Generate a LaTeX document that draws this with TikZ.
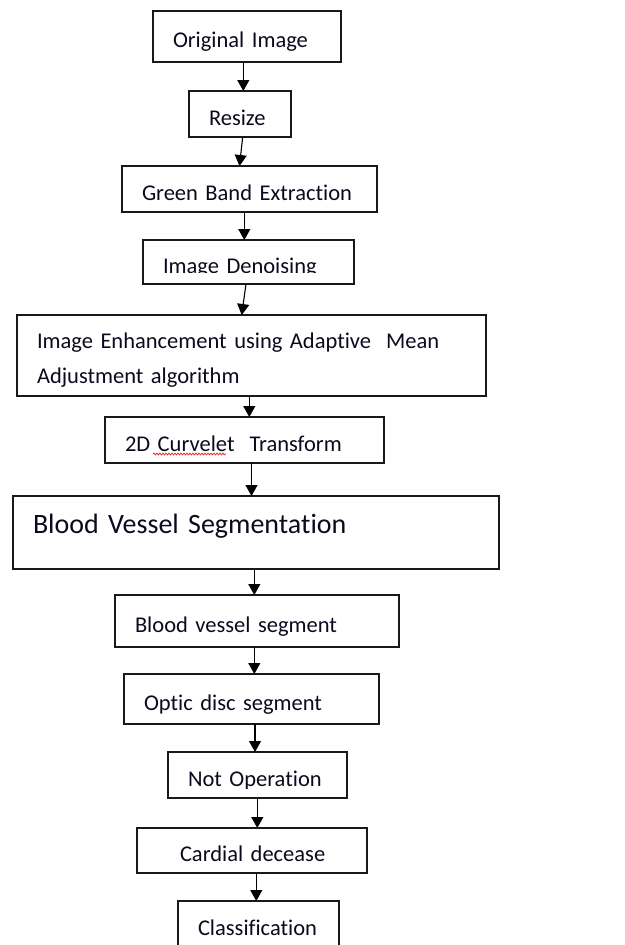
\documentclass[tikz,border=0pt]{standalone}
\usepackage{fontspec}
\setmainfont{Carlito}[Ligatures=NoCommon,WordSpace=0.65]
\usepackage{tikz}
\usetikzlibrary{arrows.meta,decorations.pathmorphing}

\begin{document}
\begin{tikzpicture}[x=1pt,y=-1pt]
    \definecolor{boxline}{RGB}{25,25,25}
    \definecolor{textcol}{RGB}{10,10,30}
    \definecolor{spellred}{RGB}{225,45,45}

    \tikzstyle{stage}=[rectangle,draw=boxline,line width=1.4pt,anchor=north west,outer sep=0pt,
        inner xsep=20pt,inner ysep=0pt,align=left,text=textcol,
        font=\fontsize{22.5}{35}\selectfont,text height=26pt,text depth=4pt]  % 方框,文字靠左
    \tikzstyle{flow}=[draw=black,line width=1.1pt,-{Triangle[length=11pt,width=12pt]}]  % 箭头

    \path[use as bounding box,clip] (0,0) rectangle (624,945);  % 画面大小

    % 各个步骤
    \node[stage,text width=148pt,minimum height=51pt](b1) at (153,11) {Original Image};
    \node[stage,text width=62pt,minimum height=46pt](b2) at (189,91) {Resize};
    \node[stage,text width=215pt,minimum height=46pt](b3) at (122,166) {Green Band Extraction};
    \begin{scope}  % 文字下半被截掉
        \clip (143,240) rectangle (354,272);
        \node[stage,draw=none,text width=171pt,minimum height=44pt](b4) at (143,240) {Image Denoising};
    \end{scope}
    \draw[draw=boxline,line width=1.4pt] (b4.north west) rectangle (b4.south east);
    \node[stage,text width=429pt,minimum height=81pt,text depth=40pt](b5) at (17,315)
        {Image Enhancement using Adaptive~~Mean\\Adjustment algorithm};
    \node[stage,text width=239pt,minimum height=46pt](b6) at (105,417) {2D Curvelet~~Transform};
    \draw[spellred,line width=0.8pt,decorate,decoration={snake,amplitude=0.9pt,segment length=3pt}]
        (153,454) -- (226,454);  % 拼写检查波浪线
    \node[stage,text width=446pt,minimum height=73pt,font=\fontsize{28}{34}\selectfont,
        text height=20pt,text depth=18pt](b7) at (13,496) {Blood Vessel Segmentation};
    \node[stage,text width=244pt,minimum height=52pt](b8) at (115,595) {Blood vessel segment};
    \node[stage,text width=215pt,minimum height=50pt](b9) at (124,674) {Optic disc segment};
    \begin{scope}
        \clip (168,752) rectangle (347,788);
        \node[stage,draw=none,text width=139pt,minimum height=46pt](b10) at (168,752) {Not Operation};
    \end{scope}
    \draw[draw=boxline,line width=1.4pt] (b10.north west) rectangle (b10.south east);
    \node[stage,text width=190pt,minimum height=45pt](b11) at (137,828) {\hspace*{23pt}Cardial decease};
    \node[stage,text width=121pt,minimum height=47pt](b12) at (178,901) {Classification};

    % 开始画线
    \draw[flow]([xshift=-3.7pt]b1.south) -- ([xshift=3.3pt]b2.north);
    \draw[flow]([xshift=2.7pt]b2.south) -- ([xshift=-10pt]b3.north);
    \draw[flow]([xshift=-5.2pt]b3.south) -- ([xshift=-4.2pt]b4.north);
    \draw[flow]([xshift=-2.5pt]b4.south) -- ([xshift=-9.8pt]b5.north);
    \draw[flow]([xshift=-2.2pt]b5.south) -- ([xshift=4.8pt]b6.north);
    \draw[flow]([xshift=7pt]b6.south) -- ([xshift=-4.5pt]b7.north);
    \draw[flow]([xshift=-1.7pt]b7.south) -- ([xshift=-2.7pt]b8.north);
    \draw[flow]([xshift=-2.7pt]b8.south) -- ([xshift=2.8pt]b9.north);
    \draw[flow]([xshift=3.5pt]b9.south) -- ([xshift=-2.5pt]b10.north);
    \draw[flow]([xshift=-0.2pt]b10.south) -- ([xshift=5.3pt]b11.north);
    \draw[flow]([xshift=4.3pt]b11.south) -- ([xshift=-2.2pt]b12.north);
\end{tikzpicture}
\end{document}
